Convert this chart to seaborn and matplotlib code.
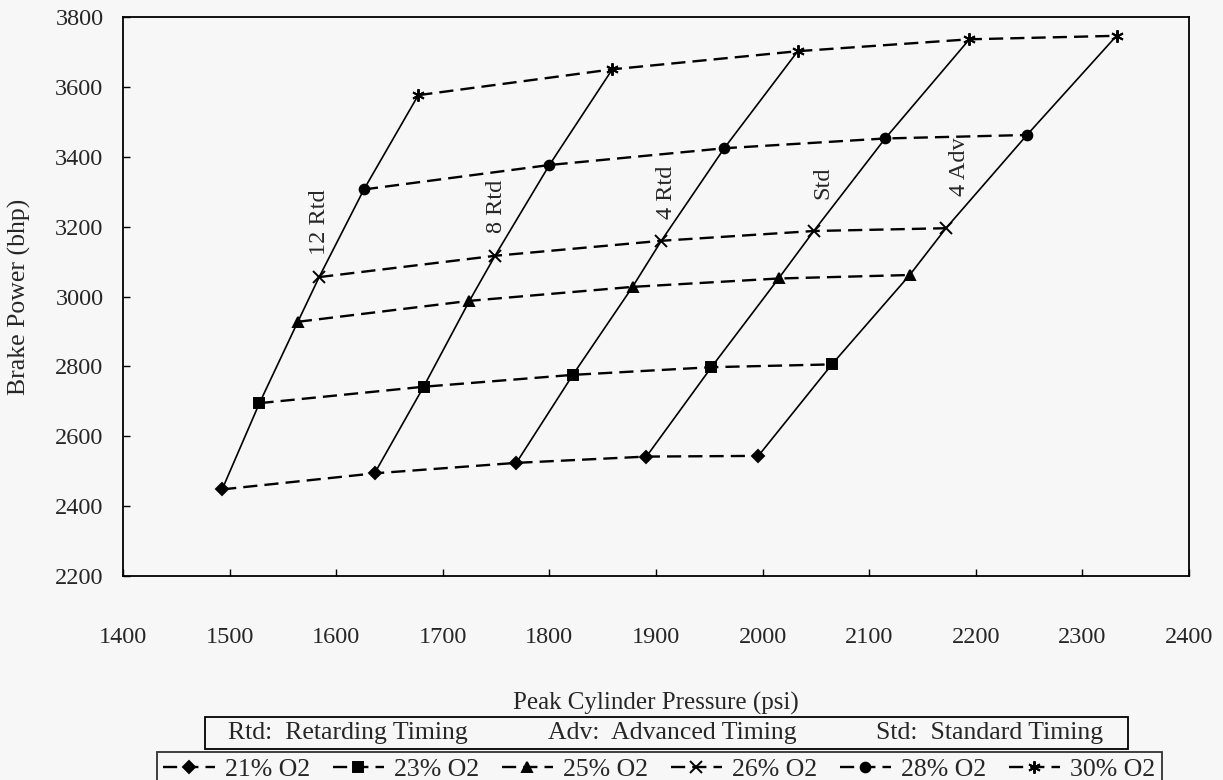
import numpy as np
import pandas as pd
import matplotlib
matplotlib.use("Agg")
import matplotlib.pyplot as plt
from matplotlib.patches import Rectangle
import seaborn as sns

# ---------------- data ----------------
series_labels = ["21% O2", "23% O2", "25% O2", "26% O2", "28% O2", "30% O2"]
timing_labels = ["12 Rtd", "8 Rtd", "4 Rtd", "Std", "4 Adv"]

pcp_21 = [1493, 1636, 1769, 1891, 1996]
bhp_21 = [2448, 2494, 2524, 2542, 2544]
pcp_23 = [1528, 1682, 1822, 1952, 2065]
bhp_23 = [2695, 2742, 2776, 2798, 2806]
pcp_25 = [1564, 1725, 1878, 2015, 2138]
bhp_25 = [2928, 2988, 3028, 3052, 3062]
pcp_26 = [1584, 1749, 1905, 2048, 2172]
bhp_26 = [3056, 3117, 3160, 3188, 3196]
pcp_28 = [1626, 1800, 1964, 2115, 2248]
bhp_28 = [3307, 3377, 3425, 3453, 3463]
pcp_30 = [1677, 1859, 2033, 2194, 2332]
bhp_30 = [3577, 3651, 3703, 3737, 3747]

x_ticks = [1400, 1500, 1600, 1700, 1800, 1900, 2000, 2100, 2200, 2300, 2400]
y_ticks = [2200, 2400, 2600, 2800, 3000, 3200, 3400, 3600, 3800]

note_texts = ["Rtd:  Retarding Timing", "Adv:  Advanced Timing", "Std:  Standard Timing"]

pcp = [pcp_21, pcp_23, pcp_25, pcp_26, pcp_28, pcp_30]
bhp = [bhp_21, bhp_23, bhp_25, bhp_26, bhp_28, bhp_30]

# ---------------- style ----------------
sns.set_theme(style="white")
plt.rcParams["font.family"] = ["Liberation Serif", "DejaVu Serif"]
FS = 17.5
FS_BOX = 18.5
BG = "#f7f7f7"

fig = plt.figure(figsize=(12.23, 7.80), dpi=100, facecolor=BG)
ax = fig.add_axes([123 / 1223, 1 - 576 / 780, 1066 / 1223, 558.7 / 780])
ax.set_facecolor(BG)

markers = ["D", "s", "^", "x", "o", (6, 2, 0)]
msizes = [6, 7, 7.5, 8, 7, 9]
dash = (0, (6, 3))

# solid lines: same timing, different O2
for i in range(len(timing_labels)):
    xs = [p[i] for p in pcp]
    ys = [b[i] for b in bhp]
    sns.lineplot(x=xs, y=ys, sort=False, color="black", lw=1.2, ax=ax,
                 legend=False, estimator=None)

# dashed lines: same O2, different timing
for k, lab in enumerate(series_labels):
    df = pd.DataFrame({"pcp": pcp[k], "bhp": bhp[k]})
    sns.lineplot(data=df, x="pcp", y="bhp", sort=False, estimator=None,
                 color="black", lw=1.7, linestyle=dash,
                 marker=markers[k], markersize=msizes[k],
                 markeredgecolor="black", markerfacecolor="black",
                 markeredgewidth=1.4, label=lab, ax=ax)

handles, labels = ax.get_legend_handles_labels()
if ax.get_legend() is not None:
    ax.get_legend().remove()

# timing labels, placed along the solid lines between 26% and 28%
fracs = [0.63, 0.54, 0.52, 0.52, 0.66]
offsets = [-20, -20, -20, -20, -29]
for i, t in enumerate(timing_labels):
    x0, x1 = pcp_26[i], pcp_28[i]
    y0, y1 = bhp_26[i], bhp_28[i]
    f = fracs[i]
    ax.annotate(t, xy=(x0 + f * (x1 - x0), y0 + f * (y1 - y0)),
                xytext=(offsets[i], 0), textcoords="offset points",
                rotation=90, ha="center", va="center", fontsize=FS)

ax.set_xlim(1400, 2400)
ax.set_ylim(2200, 3800)
ax.set_xticks(x_ticks)
ax.set_yticks(y_ticks)
ax.set_xticklabels([str(v) for v in x_ticks], fontsize=FS)
ax.set_yticklabels([str(v) for v in y_ticks], fontsize=FS)
ax.tick_params(axis="both", direction="in", length=5, width=1, color="black",
               left=True, bottom=True, right=False, top=False)
ax.tick_params(axis="x", pad=37)
ax.tick_params(axis="y", pad=14)
for s in ax.spines.values():
    s.set_color("black")
    s.set_linewidth(1.3)

ax.set_xlabel("Peak Cylinder Pressure (psi)", fontsize=18)
ax.set_ylabel("Brake Power (bhp)", fontsize=18.5)
ax.xaxis.set_label_coords(0.5, -0.207)
ax.yaxis.set_label_coords(-0.0863, 0.5)

# note box
fig.patches.append(Rectangle((205 / 1223, 1 - 749 / 780), (1128 - 205) / 1223, 32 / 780,
                             transform=fig.transFigure, fill=False,
                             edgecolor="black", lw=1.3))
for xpos, txt in zip([228 / 1223, 548 / 1223, 876 / 1223], note_texts):
    fig.text(xpos, 1 - 733 / 780, txt, fontsize=FS_BOX, ha="left", va="center")

leg = fig.legend(handles, labels, loc="upper left", ncol=6, mode="expand",
                 bbox_to_anchor=(157 / 1223, 0, (1162 - 157) / 1223, 1 - 752 / 780),
                 borderaxespad=0, fontsize=FS_BOX, frameon=True, fancybox=False,
                 edgecolor="black", handlelength=2.0, handletextpad=0.4,
                 borderpad=0.25, columnspacing=0.6)
leg.get_frame().set_linewidth(1.3)
leg.get_frame().set_facecolor(BG)

fig.savefig("out.png", dpi=100, facecolor=BG)
